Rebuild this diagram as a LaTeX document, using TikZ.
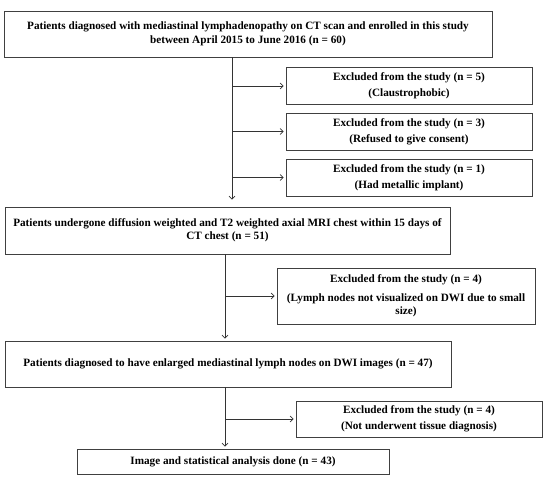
\documentclass[tikz,border=0pt]{standalone}
\usepackage{fontspec}
\setmainfont{Liberation Serif}
\usetikzlibrary{arrows.meta}
\begin{document}
\begin{tikzpicture}[x=1pt,y=-1pt,
    box/.style={draw=black!75, line width=0.8pt, inner sep=0pt, align=center,
        font=\fontsize{11.2}{13.5}\selectfont\bfseries},
    exbox/.style={box, minimum width=246pt, minimum height=37pt},
    arr/.style={draw=black!80, line width=0.7pt, shorten >=2pt,
        -{Straight Barb[length=3pt,width=6pt]}}]
    \useasboundingbox (0,0) rectangle (550,484);
    \coordinate (s1) at (232,0);
    \coordinate (s2) at (225,0);
    \node[box, minimum width=488pt, minimum height=46pt] (enrol) at (248,34)
        {Patients diagnosed with mediastinal lymphadenopathy on CT scan and enrolled in this study\\[1pt]
         between April 2015 to June 2016 (n = 60)};
    \foreach \name/\y/\num/\why in {excl1/86/5/Claustrophobic, excl2/131.5/3/Refused to give consent,
        excl3/177.5/1/Had metallic implant} {
        \node[exbox] (\name) at (409,\y) {Excluded from the study (n = \num)\\[2.5pt](\why)};
        \draw[arr] (\name.west -| s1) -- (\name.west);
    }
    \node[box, minimum width=445pt, minimum height=47pt] (mri) at (227.5,230.5)
        {Patients undergone diffusion weighted and T2 weighted axial MRI chest within 15 days of\\
         CT chest (n = 51)};
    \node[box, minimum width=258pt, minimum height=56pt] (excl4) at (406,296)
        {Excluded from the study (n = 4)\\[5pt](Lymph nodes not visualized on DWI due to small\\size)};
    \node[box, minimum width=446pt, minimum height=46pt] (dwi) at (228,364)
        {Patients diagnosed to have enlarged mediastinal lymph nodes on DWI images (n = 47)};
    \node[exbox, minimum height=36pt] (excl5) at (419,419)
        {Excluded from the study (n = 4)\\[2.5pt](Not underwent tissue diagnosis)};
    \node[box, minimum width=312pt, minimum height=25pt] (done) at (233,461.5)
        {Image and statistical analysis done (n = 43)};
    % main flow
    \draw[arr, shorten >=7pt] (enrol.south -| s1) -- (mri.north -| s1);
    \draw[arr] (mri.south -| s2) -- (dwi.north -| s2);
    \draw[arr] (dwi.south -| s2) -- (done.north -| s2);
    \draw[arr] (excl4.west -| s2) -- (excl4.west);
    \draw[arr] (excl5.west -| s2) -- (excl5.west);
\end{tikzpicture}
\end{document}
